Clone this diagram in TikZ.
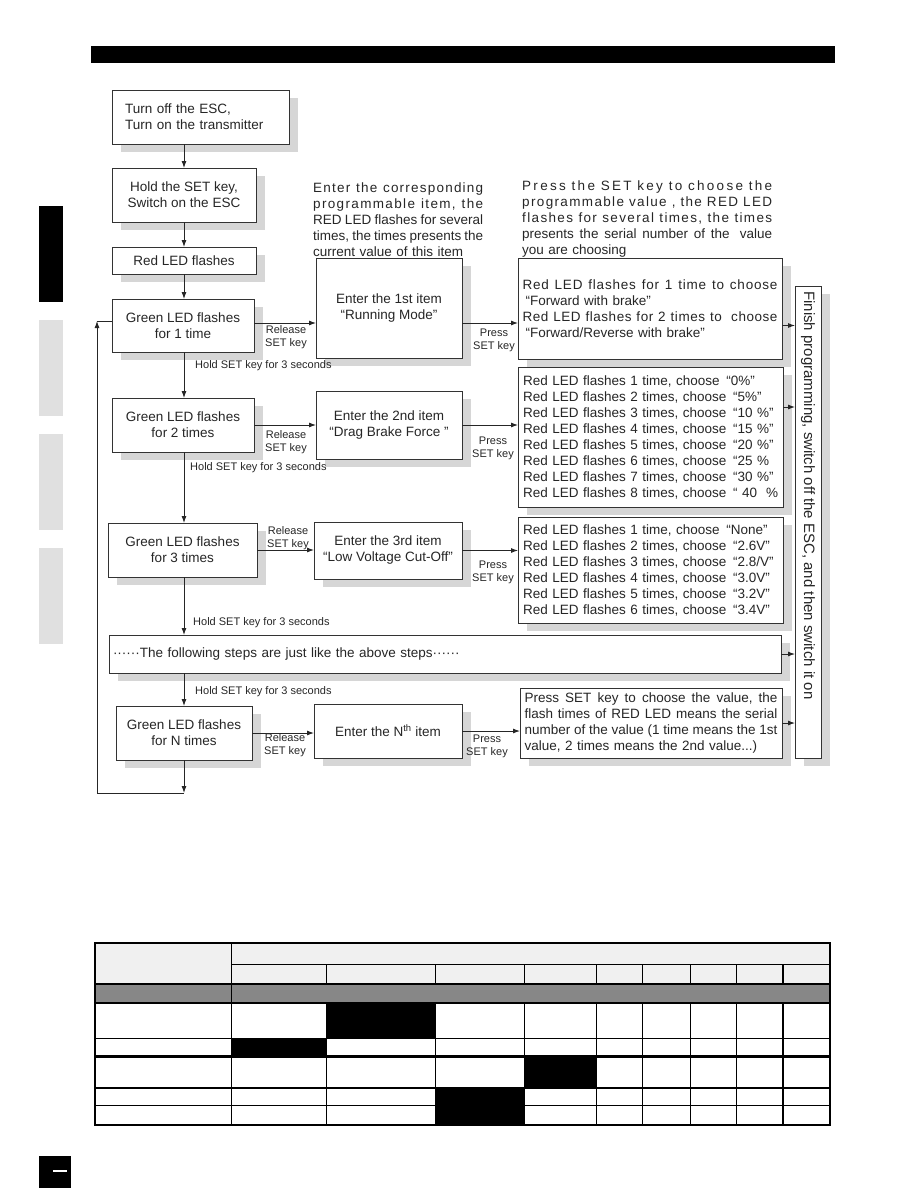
\documentclass[tikz,border=0pt]{standalone}
\usepackage{fontspec}
\setmainfont{Liberation Sans}
\usetikzlibrary{arrows.meta,shadows}
\newcommand\fs{\fontsize{13.5}{16}\selectfont}
\newcommand\fsmall{\fontsize{11}{13}\selectfont}
\newcommand\fbig{\fontsize{15}{16}\selectfont}
\ExplSyntaxOn
\seq_new:N \l_myjust_seq
\NewDocumentCommand\JS{mm}{
  \seq_set_split:Nnn \l_myjust_seq {~} {#2}
  \makebox[#1][s]{\seq_use:Nn \l_myjust_seq {\hfill}}
}
\NewDocumentCommand\LS{mmm}{
  \seq_set_split:Nnn \l_myjust_seq {~} {#3}
  \makebox[#1][s]{\addfontfeature{LetterSpace=#2}\seq_use:Nn \l_myjust_seq {\hfill}}
}
\ExplSyntaxOff
\tikzset{
  box/.style={draw=black!80, line width=0.9pt, fill=white, inner sep=0pt, outer sep=0pt,
    align=center, font=\fs, text=black!85,
    drop shadow={shadow xshift=9pt, shadow yshift=-8pt, fill=black!16, opacity=1}},
  sz/.style 2 args={minimum width=#1pt, minimum height=#2pt},
  arr/.style={draw=black!85, line width=0.9pt, -{Latex[length=7pt,width=5pt]}},
  plain/.style={draw=black!85, line width=0.9pt},
  lbl/.style={font=\fsmall, align=center, inner sep=0pt, text=black!85},
  desc/.style={font=\fs, align=left, inner sep=0pt, text=black!85},
  tline/.style={draw=black, line width=1.1pt},
  tthick/.style={draw=black, line width=2.2pt}
}
\begin{document}
\begin{tikzpicture}[x=1pt,y=-1pt]
\useasboundingbox (0,0) rectangle (918,1188);

% header bar and side tabs
\fill[black] (91,46) rectangle (835,63);
\fill[black] (39,206) rectangle (63,302);
\fill[black!12] (39,320) rectangle (63,416);
\fill[black!12] (39,434) rectangle (63,530);
\fill[black!12] (39,548) rectangle (63,644);
\fill[black] (39,1156) rectangle (71,1188);
\draw[white, line width=1.5pt] (53,1171) -- (67,1171);

% explanatory texts
\node[desc, text width=170pt, anchor=west] (tl) at (313,219.5) {%
\LS{170pt}{9}{Enter the corresponding}\\
\LS{170pt}{10}{programmable item, the}\\
\JS{170pt}{RED LED flashes for several}\\
\JS{170pt}{times, the times presents the}\\
current value of this item};
\node[desc, text width=250pt, anchor=west] (tr) at (522,219.5) {%
\LS{250pt}{17}{Press the SET key to choose the}\\
\LS{250pt}{10}{programmable value , the RED LED}\\
\LS{250pt}{10}{flashes for several times, the times}\\
\JS{250pt}{presents the serial number of the \ value}\\
you are choosing};

% left column
\node[box, sz={177}{54}, text width=151pt, align=left] (b1) at (200.5,117)
  {Turn off the ESC,\\Turn on the transmitter};
\node[box, sz={144}{54}] (b2) at (184,195) {Hold the SET key,\\Switch on the ESC};
\node[box, sz={144}{27}] (b3) at (184,260.5) {Red LED flashes};
\node[box, sz={142}{53}] (g1) at (183,325.5) {Green LED flashes\\for 1 time};
\node[box, sz={142}{54}] (g2) at (183,425) {Green LED flashes\\for 2 times};
\node[box, sz={149}{54}] (g3) at (182.5,550) {Green LED flashes\\for 3 times};
\node[box, sz={672}{38}, text width=664pt, align=left] (fol) at (445,654)
  {\textperiodcentered\textperiodcentered\textperiodcentered\textperiodcentered\textperiodcentered\textperiodcentered The following steps are just like the above steps\textperiodcentered\textperiodcentered\textperiodcentered\textperiodcentered\textperiodcentered\textperiodcentered};
\node[box, sz={136}{54}] (gN) at (184,733) {Green LED flashes\\for N times};

% item column
\node[box, sz={146}{100}] (e1) at (389,308) {Enter the 1st item\\“Running Mode”};
\node[box, sz={146}{68}] (e2) at (389,425) {Enter the 2nd item\\“Drag Brake Force ”};
\node[box, sz={148}{57}] (e3) at (388,550.5) {Enter the 3rd item\\“Low Voltage Cut-Off”};
\node[box, sz={148}{54}] (eN) at (388,731) {Enter the N\textsuperscript{th} item};

% value column
\node[box, sz={264}{101}, text width=255pt, align=left] (v1) at (650,308.5) {%
\LS{255pt}{6}{Red LED flashes for 1 time to choose}\\
\hspace*{3pt}“Forward with brake”\\
\LS{255pt}{4}{Red LED flashes for 2 times to \ choose}\\
\hspace*{3pt}“Forward/Reverse with brake”};
\node[box, sz={265}{140}, text width=255pt, align=left] (v2) at (650.5,437) {%
\mbox{Red LED flashes 1 time, choose \,“0\%”}\\
\mbox{Red LED flashes 2 times, choose \,“5\%”}\\
\mbox{Red LED flashes 3 times, choose \,“10 \%”}\\
\mbox{Red LED flashes 4 times, choose \,“15 \%”}\\
\mbox{Red LED flashes 5 times, choose \,“20 \%”}\\
\mbox{Red LED flashes 6 times, choose \,“25 \%}\\
\mbox{Red LED flashes 7 times, choose \,“30 \%”}\\
\mbox{Red LED flashes 8 times, choose \,“ 40\ \ \%}};
\node[box, sz={265}{106}, text width=255pt, align=left] (v3) at (650.5,570) {%
\mbox{Red LED flashes 1 time, choose \,“None”}\\
\mbox{Red LED flashes 2 times, choose \,“2.6V”}\\
\mbox{Red LED flashes 3 times, choose \,“2.8/V”}\\
\mbox{Red LED flashes 4 times, choose \,“3.0V”}\\
\mbox{Red LED flashes 5 times, choose \,“3.2V”}\\
\mbox{Red LED flashes 6 times, choose \,“3.4V”}};
\node[box, sz={262}{70}, text width=253pt, align=left] (vN) at (651,723) {%
\JS{253pt}{Press SET key to choose the value, the}\\
\JS{253pt}{flash times of RED LED means the serial}\\
\JS{253pt}{number of the value (1 time means the 1st}\\
value, 2 times means the 2nd value...)};

% finish box
\node[box, sz={26}{472}] (fin) at (808,522) {};
\node[font=\fbig, text=black!85, rotate=-90, anchor=west, inner sep=0pt] (fint) at (808,291)
  {Finish programming, switch off the ESC, and then switch it on};

% vertical flow
\draw[arr] (b2.north |- b1.south) -- (b2.north);
\draw[arr] (b2.south) -- (b3.north);
\draw[arr] (b3.south) -- (b3.south |- g1.north);
\draw[arr] (b3.south |- g1.south) -- (b3.south |- g2.north);
\draw[arr] (b3.south |- g2.south) -- (b3.south |- g3.north);
\draw[arr] (b3.south |- g3.south) -- (b3.south |- fol.north);
\draw[arr] (gN.north |- fol.south) -- (gN.north);
\coordinate (lb) at (184,793);
\coordinate (lc) at (97,793);
\coordinate (lt) at (97,321);
\draw[arr] (gN.south) -- (lb);
\draw[arr] (lb) -- (lc) -- (lt);
\draw[plain] (lt) -- (lt -| g1.west);

\node[lbl, anchor=west] (h1) at (195,366) {Hold SET key for 3 seconds};
\node[lbl, anchor=west] (h2) at (190,468) {Hold SET key for 3 seconds};
\node[lbl, anchor=west] (h3) at (193,623) {Hold SET key for 3 seconds};
\node[lbl, anchor=west] (h4) at (195,692) {Hold SET key for 3 seconds};

% horizontal flow
\coordinate (c1) at (250,323);
\coordinate (c2) at (790,407);
\draw[arr] (g1.east |- c1) -- (e1.west |- c1);
\draw[arr] (e1.east |- c1) -- (v1.west |- c1);
\draw[arr] (v1.east |- g1.east) -- (fin.west |- g1.east);
\draw[arr] (g2.east) -- (e2.west |- g2.east);
\draw[arr] (e2.east) -- (v2.west |- e2.east);
\draw[arr] (v2.east |- c2) -- (fin.west |- c2);
\draw[arr] (g3.east) -- (e3.west |- g3.east);
\draw[arr] (e3.east) -- (v3.west |- e3.east);
\draw[arr] (fol.east) -- (fin.west |- fol.east);
\draw[arr] (gN.east) -- (eN.west |- gN.east);
\draw[arr] (eN.east) -- (vN.west |- eN.east);
\draw[arr] (vN.east) -- (fin.west |- vN.east);

\node[lbl] (r1) at (286,337.5) {Release\\SET key};
\node[lbl] (r2) at (286,442.5) {Release\\SET key};
\node[lbl] (r3) at (288,538.5) {Release\\SET key};
\node[lbl] (r4) at (285,745) {Release\\SET key};
\node[lbl] (p1) at (494,340) {Press\\SET key};
\node[lbl] (p2) at (493,448.5) {Press\\SET key};
\node[lbl] (p3) at (493,572.5) {Press\\SET key};
\node[lbl] (p4) at (487,746) {Press\\SET key};

% table
\fill[black!6] (95,943) rectangle (830,984.2);
\fill[black!47] (95,984.2) rectangle (830,1003);
\fill[black] (326.7,1003) rectangle (435.4,1038.3);
\fill[black] (231.3,1038.3) rectangle (326.7,1056.4);
\fill[black] (524.2,1056.4) rectangle (596.2,1088);
\fill[black] (435.4,1088) rectangle (524.2,1125);
\draw[tline] (95,943) -- (95,1125) -- (830,1125) -- (830,943);
\draw[tthick] (94,943) -- (831,943);
\draw[tline] (231.3,964.4) -- (830,964.4);
\draw[tthick] (95,984.2) -- (830,984.2);
\draw[tline] (95,1003) -- (830,1003);
\draw[tline] (95,1038.3) -- (830,1038.3);
\draw[tthick] (95,1056.4) -- (830,1056.4);
\draw[tline] (95,1088) -- (830,1088);
\draw[tline] (95,1105.9) -- (830,1105.9);
\draw[tline] (231.3,943) -- (231.3,1125);
\foreach \x in {326.7,435.4,524.2,596.2,642.2,690.1,736.6,783.0} {
  \draw[tline] (\x,964.4) -- (\x,984.2);
  \draw[tline] (\x,1003) -- (\x,1125);
}
\end{tikzpicture}
\end{document}
